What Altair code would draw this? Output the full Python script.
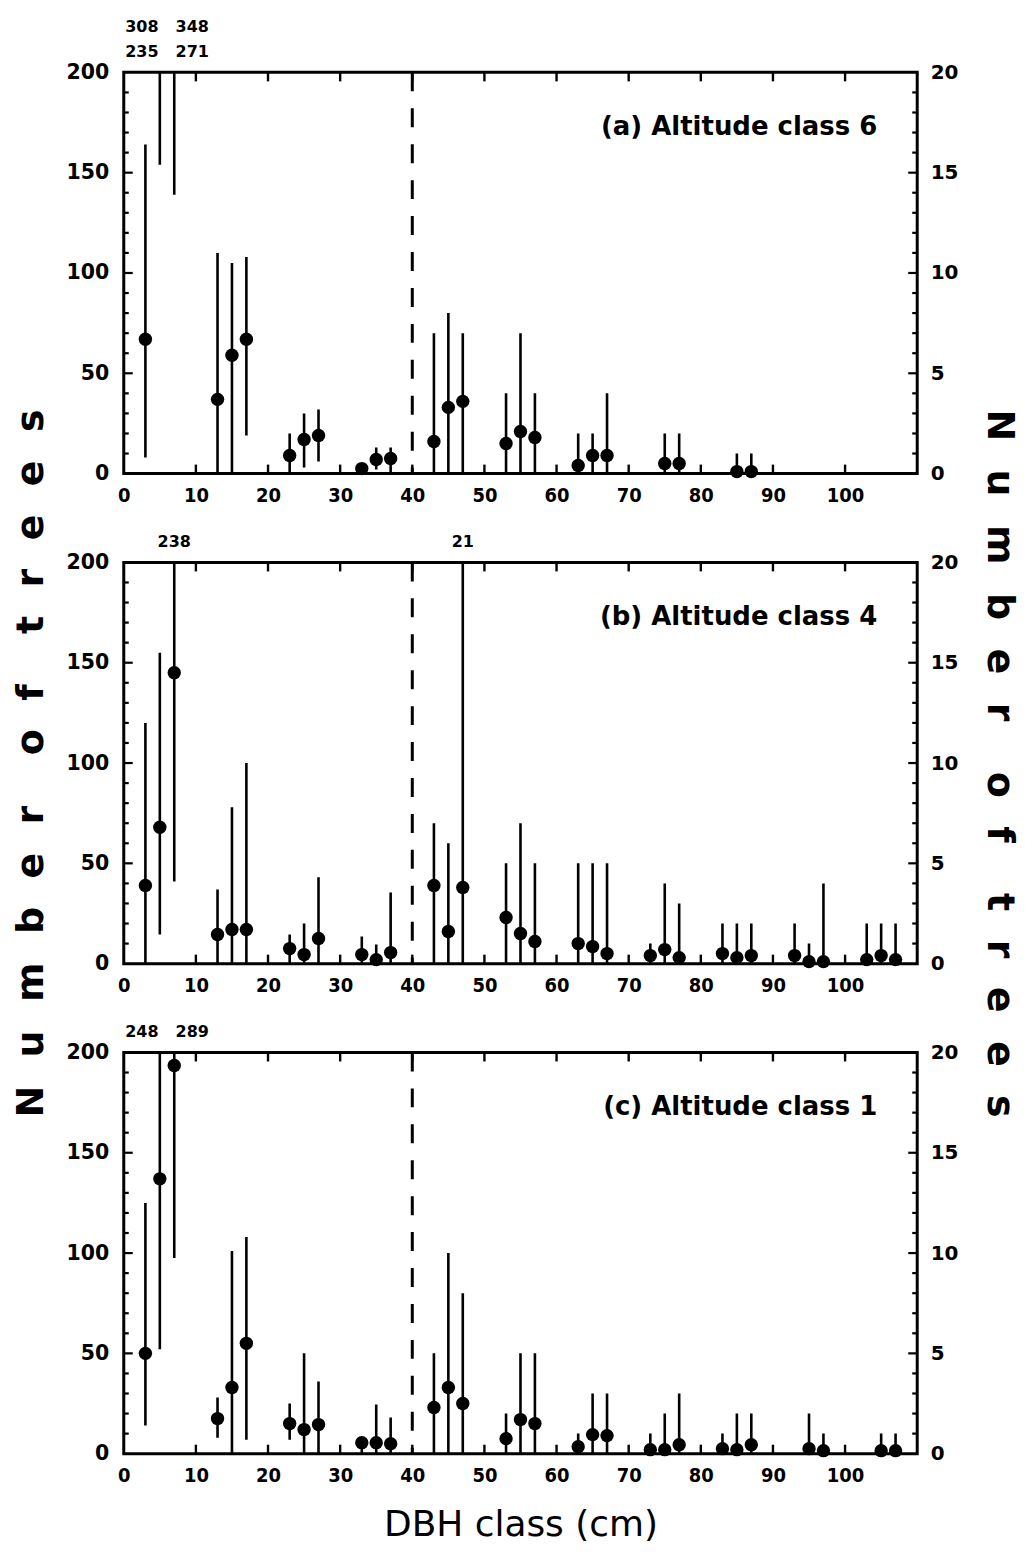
import altair as alt
import pandas as pd
import numpy as np

# ---------------- data ----------------
# DBH class mid-points (cm); classes < 40 cm use the left axis (0-200),
# classes > 40 cm use the right axis (0-20)
a_title = "(a) Altitude class 6"
a_dbh = [3, 5, 7, 13, 15, 17, 23, 25, 27, 33, 35, 37,
         43, 45, 47, 53, 55, 57, 63, 65, 67, 75, 77, 85, 87]
a_mean = [67, 235, 271, 37, 59, 67, 9, 17, 19, 2.5, 7, 7.5,
          1.6, 3.3, 3.6, 1.5, 2.1, 1.8, 0.4, 0.9, 0.9, 0.5, 0.5, 0.1, 0.1]
a_lo = [8, 154, 139, 0, 0, 19, 0, 3, 6, 0, 2, 0,
        0, 0, 0, 0, 0, 0, 0, 0, 0, 0, 0, 0, 0]
a_hi = [164, 308, 348, 110, 105, 108, 20, 30, 32, 4, 13, 13,
        7, 8, 7, 4, 7, 4, 2, 2, 4, 2, 2, 1, 1]

b_title = "(b) Altitude class 4"
b_dbh = [3, 5, 7, 13, 15, 17, 23, 25, 27, 33, 35, 37,
         43, 45, 47, 53, 55, 57, 63, 65, 67, 73, 75, 77, 83, 85, 87,
         93, 95, 97, 103, 105, 107]
b_mean = [39, 68, 145, 14.5, 17, 17, 7.5, 4.5, 12.5, 4.5, 2, 5.5,
          3.9, 1.6, 3.8, 2.3, 1.5, 1.1, 1.0, 0.85, 0.5, 0.4, 0.7, 0.3,
          0.5, 0.3, 0.4, 0.4, 0.1, 0.1, 0.2, 0.4, 0.2]
b_lo = [0, 14.5, 41, 0, 0, 0, 0, 0, 0, 0, 0, 0,
        0, 0, 0, 0, 0, 0, 0, 0, 0, 0, 0, 0, 0, 0, 0, 0, 0, 0, 0, 0, 0]
b_hi = [120, 155, 238, 37, 78, 100, 14.5, 20, 43, 13.5, 9.5, 35.5,
        7, 6, 21, 5, 7, 5, 5, 5, 5, 1, 4, 3, 2, 2, 2, 2, 1, 4, 2, 2, 2]

c_title = "(c) Altitude class 1"
c_dbh = [3, 5, 7, 13, 15, 17, 23, 25, 27, 33, 35, 37,
         43, 45, 47, 53, 55, 57, 63, 65, 67, 73, 75, 77, 83, 85, 87,
         95, 97, 105, 107]
c_mean = [50, 137, 193.5, 17.5, 33, 55, 15, 12, 14.5, 5.5, 5.5, 5,
          2.3, 3.3, 2.5, 0.75, 1.7, 1.5, 0.35, 0.95, 0.9, 0.2, 0.2, 0.45,
          0.25, 0.2, 0.45, 0.25, 0.15, 0.15, 0.15]
c_lo = [14, 52, 97.5, 8, 0, 7, 7, 0, 0, 0, 0, 0,
        0, 0, 0, 0, 0, 0, 0, 0, 0, 0, 0, 0, 0, 0, 0, 0, 0, 0, 0]
c_hi = [125, 248, 289, 28, 101, 108, 25, 50, 36, 6, 24.5, 18,
        5, 10, 8, 2, 5, 5, 1, 3, 3, 1, 2, 3, 1, 2, 2, 2, 1, 1, 1]

x_label_values = [0, 10, 20, 30, 40, 50, 60, 70, 80, 90, 100]
x_tick_values = [10, 20, 30, 40, 50, 60, 70, 80, 90, 100]
y_left_values = [0, 50, 100, 150, 200]
y_right_values = [0, 5, 10, 15, 20]
y_major_ticks = [50, 100, 150]
y_minor_ticks = [10, 20, 30, 40, 60, 70, 80, 90, 110, 120, 130, 140,
                 160, 170, 180, 190]

SPLIT = 40
LEFT_MAX = 200
RIGHT_MAX = 20
X_MAX = 110

x_title = "DBH class (cm)"
GAP = "\u2002\u2005"          # letter gap
WGAP = "\u2003\u2004"         # word gap
y_title = WGAP.join(GAP.join(list(w)) for w in ["Number", "of", "trees"])

# ---------------- styling ----------------
W, H = 795, 402
FONT = "DejaVu Sans"
NARROW = "Liberation Sans Narrow, DejaVu Sans Condensed, DejaVu Sans"
INK = "black"


def make_panel(title, dbh, mean, lo, hi, middle=False, last=False):
    df = pd.DataFrame(dict(dbh=dbh, mean=mean, lo=lo, hi=hi))
    df["side"] = np.where(df["dbh"] < SPLIT, "left", "right")
    df["top"] = np.where(df["side"] == "left", LEFT_MAX, RIGHT_MAX)
    df["hi_c"] = np.minimum(df["hi"], df["top"])
    df_l = df[df.side == "left"]
    df_r = df[df.side == "right"]
    pts_l = df_l[df_l["mean"] <= df_l["top"]]
    pts_r = df_r[df_r["mean"] <= df_r["top"]]

    # out-of-range annotations
    lab_rows = []
    for _, r in df.iterrows():
        has_mean = r["mean"] > r["top"]
        if r["hi"] > r["top"]:
            lab_rows.append(dict(dbh=r["dbh"], text=f"{r['hi']:g}",
                                 row="upper" if has_mean else "lower", side=r["side"]))
        if has_mean:
            lab_rows.append(dict(dbh=r["dbh"], text=f"{r['mean']:g}",
                                 row="lower", side=r["side"]))
    lab = pd.DataFrame(lab_rows)
    shifts = []
    for _, r in lab.iterrows():
        others = set(lab[(lab.side == r.side)]["dbh"])
        if r.dbh + 2 in others:
            shifts.append("left")
        elif r.dbh - 2 in others:
            shifts.append("right")
        else:
            shifts.append("none")
    lab["shift"] = shifts

    xaxis = alt.Axis(values=x_label_values, grid=False, ticks=False, tickSize=0,
                     domain=False, labelFont=NARROW, labelFontSize=20,
                     labelFontWeight="bold", labelColor=INK, labelPadding=12,
                     labelFlush=False,
                     title=x_title if last else None,
                     titleFont=FONT, titleFontSize=36, titleFontWeight="normal",
                     titleColor=INK, titlePadding=22)
    xscale = alt.Scale(domain=[0, X_MAX], nice=False, zero=False)

    def X(field="dbh"):
        return alt.X(f"{field}:Q", scale=xscale, axis=xaxis)

    yl = alt.Scale(domain=[0, LEFT_MAX], nice=False)
    yr = alt.Scale(domain=[0, RIGHT_MAX], nice=False)
    yaxis_l = alt.Axis(values=y_left_values, grid=False, ticks=False, tickSize=0,
                       domain=False, labelFont=FONT, labelFontSize=20.5,
                       labelFontWeight="bold", labelColor=INK, labelPadding=15,
                       title=y_title if middle else None,
                       titleFont=FONT, titleFontSize=38, titleFontWeight="bold",
                       titleColor=INK, titlePadding=16)
    yaxis_r = alt.Axis(values=y_right_values, orient="right", grid=False,
                       ticks=False, tickSize=0, domain=False, labelFont=FONT,
                       labelFontSize=20, labelFontWeight="bold", labelColor=INK,
                       labelPadding=13,
                       title=y_title if middle else None,
                       titleFont=FONT, titleFontSize=38, titleFontWeight="bold",
                       titleColor=INK, titlePadding=22)

    # ---- left group (0-200) ----
    bars_l = alt.Chart(df_l).mark_rule(color=INK, strokeWidth=2.6, clip=True).encode(
        x=X(), y=alt.Y("lo:Q", scale=yl, axis=yaxis_l), y2="hi_c:Q")
    dots_l = alt.Chart(pts_l).mark_circle(color=INK, opacity=1, size=180).encode(
        x=X(), y=alt.Y("mean:Q", scale=yl, axis=yaxis_l))
    ymaj = pd.DataFrame({"v": y_major_ticks})
    ymin = pd.DataFrame({"v": y_minor_ticks})
    tick_layers = []
    for d, ln in ((ymaj, 9), (ymin, 5)):
        tick_layers.append(alt.Chart(d).mark_rule(color=INK, strokeWidth=2.2).encode(
            y=alt.Y("v:Q", scale=yl, axis=yaxis_l), x=alt.value(0), x2=alt.value(ln)))
        tick_layers.append(alt.Chart(d).mark_rule(color=INK, strokeWidth=2.2).encode(
            y=alt.Y("v:Q", scale=yl, axis=yaxis_l), x=alt.value(W), x2=alt.value(W - ln)))
    left_group = alt.layer(bars_l, dots_l, *tick_layers)

    # ---- right group (0-20) ----
    bars_r = alt.Chart(df_r).mark_rule(color=INK, strokeWidth=2.6, clip=True).encode(
        x=X(), y=alt.Y("lo:Q", scale=yr, axis=yaxis_r), y2="hi_c:Q")
    dots_r = alt.Chart(pts_r).mark_circle(color=INK, opacity=1, size=180).encode(
        x=X(), y=alt.Y("mean:Q", scale=yr, axis=yaxis_r))
    right_group = alt.layer(bars_r, dots_r)

    # ---- common decorations ----
    xt = pd.DataFrame({"v": x_tick_values})
    xt_bot = alt.Chart(xt).mark_rule(color=INK, strokeWidth=2.4).encode(
        x=X("v"), y=alt.value(H), y2=alt.value(H - 9))
    xt_top = alt.Chart(xt).mark_rule(color=INK, strokeWidth=2.4).encode(
        x=X("v"), y=alt.value(0), y2=alt.value(9))
    dash = alt.Chart(pd.DataFrame({"v": [SPLIT]})).mark_rule(
        color=INK, strokeWidth=3, strokeDash=[19, 17]).encode(
        x=X("v"), y=alt.value(0), y2=alt.value(H))
    ptitle = alt.Chart(pd.DataFrame({"t": [title]})).mark_text(
        align="right", baseline="alphabetic", font=FONT, fontSize=26,
        fontWeight="bold", color=INK).encode(
        text="t:N", x=alt.value(755), y=alt.value(63))

    lab_layers = []
    for row, yv in (("upper", -40), ("lower", -15)):
        for sh, dx in (("left", -18), ("none", 0), ("right", 18)):
            sub = lab[(lab.row == row) & (lab["shift"] == sh)]
            if len(sub) == 0:
                continue
            lab_layers.append(alt.Chart(sub).mark_text(
                align="center", baseline="alphabetic", font=FONT, fontSize=16,
                fontWeight="bold", color=INK, dx=dx).encode(
                x=X(), y=alt.value(yv), text="text:N"))

    panel = alt.layer(left_group, right_group, xt_bot, xt_top, dash, ptitle,
                      *lab_layers).resolve_scale(y="independent").properties(
        width=W, height=H)
    return panel


pa = make_panel(a_title, a_dbh, a_mean, a_lo, a_hi)
pb = make_panel(b_title, b_dbh, b_mean, b_lo, b_hi, middle=True)
pc = make_panel(c_title, c_dbh, c_mean, c_lo, c_hi, last=True)

chart = alt.vconcat(pa, pb, pc, spacing=89, bounds="flush").configure_view(
    stroke=INK, strokeWidth=3).properties(
    padding={"top": 16, "left": 10, "right": 5, "bottom": 5},
    background="white")

chart.save("out.html", embed_options={"renderer": "svg", "actions": False})
